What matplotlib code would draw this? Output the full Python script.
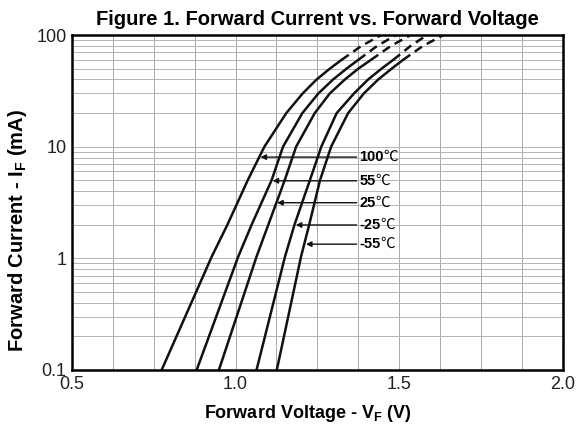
import matplotlib.pyplot as plt
import numpy as np

plt.rcParams['font.family'] = ['Liberation Sans', 'DejaVu Sans']
plt.rcParams['mathtext.fontset'] = 'custom'
plt.rcParams['mathtext.rm'] = 'Liberation Sans'
plt.rcParams['mathtext.bf'] = 'Liberation Sans:bold'

# forward current (mA), solid part then dashed part
labels = ['100', '55', '25', '-25', '-55']
cur_solid = [0.1, 1.035, 2, 5, 10, 20, 30, 40, 50, 60]
cur_dash = [60, 80, 100]
v_solid = [
    [0.774, 0.927, 0.975, 1.037, 1.088, 1.155, 1.205, 1.2476, 1.288, 1.324],
    [0.881, 1.008, 1.049, 1.110, 1.145, 1.204, 1.253, 1.298, 1.339, 1.375],
    [0.949, 1.064, 1.100, 1.150, 1.185, 1.242, 1.288, 1.334, 1.375, 1.414],
    [1.064, 1.151, 1.180, 1.227, 1.262, 1.309, 1.362, 1.405, 1.446, 1.482],
    [1.126, 1.200, 1.225, 1.258, 1.292, 1.344, 1.392, 1.436, 1.477, 1.512],
]
v_dash = [
    [1.324, 1.385, 1.445],
    [1.375, 1.433, 1.490],
    [1.414, 1.475, 1.535],
    [1.482, 1.535, 1.585],
    [1.512, 1.573, 1.635],
]
# arrow tips on the curves
tip_v = [1.076, 1.113, 1.127, 1.184, 1.215]
tip_i = [8.07, 4.95, 3.15, 1.99, 1.34]

fig = plt.figure(figsize=(5.76, 4.33), dpi=100)
ax = fig.add_axes([0.125, 0.1455, 0.852, 0.7735])

ax.set_yscale('log')
ax.set_xlim(0.5, 2.0)
ax.set_ylim(0.1, 100)

# grid
for x in np.arange(0.5, 2.0001, 0.125):
    ax.axvline(x, color='#a8a8a8', lw=0.7, zorder=0)
for d in [0.1, 1, 10]:
    for k in range(1, 10):
        ax.axhline(d * k, color='#b4b4b4', lw=0.7, zorder=0)

for k in range(5):
    ax.plot(v_solid[k], cur_solid, color='#111111', lw=1.8, solid_capstyle='round')
    ax.plot(v_dash[k], cur_dash, color='#111111', lw=1.8, ls=(0, (3.5, 2.2)))
    ax.annotate('', xy=(tip_v[k], tip_i[k]), xytext=(1.37, tip_i[k]),
                arrowprops=dict(arrowstyle='-|>', color='#111111', lw=1.0,
                                mutation_scale=8, shrinkA=0, shrinkB=0))
    t = ax.text(1.378, tip_i[k], labels[k], fontsize=10.5, fontweight='bold',
                va='center', ha='left')
    ax.annotate('℃', xy=(1, 0.5), xycoords=t, va='center', ha='left',
                fontsize=10.5, family=['Noto Sans CJK SC', 'DejaVu Sans'])

ax.set_xticks([0.5, 1.0, 1.5, 2.0])
ax.set_xticklabels(['0.5', '1.0', '1.5', '2.0'])
ax.set_yticks([0.1, 1, 10, 100])
ax.set_yticklabels(['0.1', '1', '10', '100'])
ax.minorticks_off()
ax.tick_params(length=0, labelsize=13, pad=4, colors='#222222')
for s in ax.spines.values():
    s.set_linewidth(1.8)

ax.set_xlabel(r'Forward Voltage - V$_\mathbf{F}$ (V)', fontsize=13, fontweight='bold')
ax.xaxis.set_label_coords(0.48, -0.098)
ax.set_ylabel(r'Forward Current - I$_\mathbf{F}$ (mA)', fontsize=14.5, fontweight='bold')
ax.yaxis.set_label_coords(-0.088, 0.415)
fig.suptitle('Figure 1. Forward Current vs. Forward Voltage', x=0.551, y=0.978,
             fontsize=14.5, fontweight='bold')

fig.savefig('out.png', dpi=100)
